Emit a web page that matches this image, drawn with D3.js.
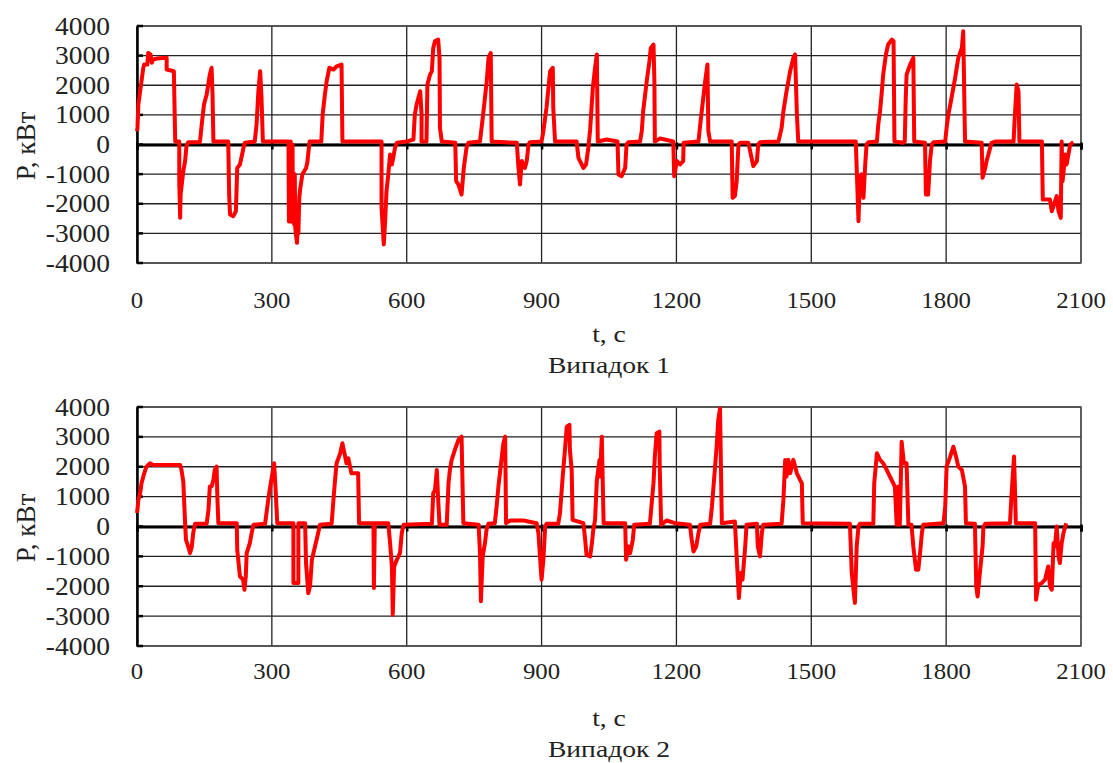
<!DOCTYPE html>
<html><head><meta charset="utf-8">
<script src="https://cdn.jsdelivr.net/npm/d3@7"></script>
<style>body{margin:0;background:#fff;} svg{display:block;} text{font-family:"Liberation Serif","Times New Roman",serif;fill:#222;}</style>
</head><body>
<svg id="c" width="1113" height="763"></svg>
<script>
const xTicks = [0,300,600,900,1200,1500,1800,2100];
const yTicks = [4000,3000,2000,1000,0,-1000,-2000,-3000,-4000];
const xTitle = "t, с";
const yTitle = "P, кВт";
const panelTitles = ["Випадок 1","Випадок 2"];

const time1 = [0,1,3,7,14,16,23,25,30,33,36,44,66,66,82,85,94,94,96,97,103,107,110,114,140,144,149,155,162,166,168,170,203,205,207,214,220,223,229,237,240,262,266,270,274,277,280,337,
338,341,342,343,345,346,347,350,351,352,354,356,358,359,361,363,365,368,372,376,379,381,384,
410,413,418,422,428,437,444,455,457,
544,544,549,552,555,559,563,567,570,574,578,600,615,618,622,626,630,633,633,644,646,652,656,659,663,670,673,674,678,
708,710,715,722,727,733,737,763,770,774,778,782,787,789,
845,848,852,856,863,867,871,874,900,904,911,919,925,926,930,
978,982,993,999,1004,1008,1014,1019,1023,1025,1045,1069,
1071,1078,1086,1089,1093,1119,1123,1126,1134,1140,1143,1149,1151,1152,1164,1193,
1195,1201,1208,1215,1216,1249,1253,1258,1264,1269,1271,1275,
1323,1325,1330,1334,1338,1342,1360,1364,1371,1379,1382,1386,1427,1434,1438,1445,1453,1460,1464,1468,1471,
1599,1601,1605,1608,1612,1616,1620,1623,1627,1646,1649,1653,1657,1660,1666,1671,1679,1683,1685,1705,1708,1710,1712,1720,1727,1729,1753,1755,1760,1764,1768,1772,1798,1801,1805,1812,1820,1827,1835,1838,1842,1879,1881,1887,1890,1898,1901,1909,1950,1953,1957,1961,1963,2013,2015,2031,2035,2040,2046,2050,2055,2057,2059,2065,2068,2076,2083];
const power1 = [450,560,1350,1800,2590,2700,2700,3090,3040,2760,2870,2900,2925,2530,2475,100,100,-1240,-2475,-1690,-900,-560,-56,80,80,675,1350,1690,2360,2590,1690,100,100,-1690,-2360,-2420,-2250,-790,-675,-110,56,100,675,1800,2475,1575,100,100,
-2600,-2600,100,-2500,-2600,0,-2600,-2700,-1000,-2800,-3100,-3320,-2500,-3000,-1800,-1500,-1300,-1000,-900,-800,-600,-300,100,
100,1010,1690,2140,2590,2530,2640,2700,100,
100,-2140,-3375,-2590,-1575,-1010,-340,-675,-450,-110,56,100,170,1010,1350,1575,1800,1010,100,100,2025,2360,2475,3260,3490,3540,2925,560,100,
56,-1240,-1350,-1690,-790,-110,56,100,1010,1575,2140,2925,3090,100,
56,-675,-1350,-560,-790,-560,0,80,100,450,1240,2475,2590,1240,100,
100,-450,-790,-675,-110,500,1910,2590,3040,100,170,100,
-1010,-1070,-790,0,80,100,450,1125,2140,2810,3260,3375,2140,100,200,100,
-1070,-560,-675,-560,56,100,675,1350,2140,2700,450,100,
100,-1800,-1740,-1240,0,56,56,-225,-730,-560,0,80,100,560,1125,1800,2475,2925,3040,1010,100,
100,-790,-2590,-1125,-1010,-1800,-675,0,80,100,675,1125,1800,2360,3040,3375,3540,3490,100,56,100,1500,2360,2700,2925,100,56,-1690,-1690,-560,0,80,100,560,1010,1575,2250,2925,3260,3825,100,56,-1125,-790,-560,-110,56,100,100,1010,2025,1800,100,100,-1860,-1860,-2250,-2025,-1740,-2250,-2475,100,-1240,-340,-675,0,80];

const time2 = [0,1,3,7,10,16,21,29,36,96,99,103,107,109,114,118,122,125,129,155,159,162,166,170,173,177,179,181,222,223,229,236,239,242,244,251,255,259,285,288,294,300,305,308,312,348,348,359,359,374,376,381,385,389,396,403,407,433,437,440,444,452,457,463,466,470,474,477,492,494,526,527,529,559,563,567,569,572,578,585,589,593,656,659,663,667,670,673,689,693,696,700,707,715,722,726,760,763,765,769,774,778,782,796,800,804,809,815,819,821,830,860,889,893,897,900,904,908,911,937,941,947,952,956,962,963,967,969,993,997,1000,1008,1012,1015,1019,1023,1029,1030,1034,1038,1086,1088,1093,1097,1103,1106,1141,1145,1149,1152,1156,1162,1163,1166,1178,1197,1230,1234,1238,1244,1249,1253,1275,1279,1286,1290,1293,1297,1301,1330,1334,1339,1343,1347,1353,1356,1379,1381,1386,1390,1393,1434,1438,1442,1445,1449,1453,1460,1468,1475,1479,1481,1586,1590,1597,1601,1605,1608,1638,1640,1646,1653,1660,1668,1675,1686,1690,1694,1697,1701,1706,1712,1716,1723,1727,1733,1738,1742,1746,1749,1794,1798,1801,1809,1816,1822,1827,1835,1842,1844,1864,1867,1870,1875,1881,1883,1887,1942,1944,1948,1951,1953,1955,1998,2000,2005,2013,2020,2027,2031,2035,2039,2042,2046,2050,2053,2057,2061,2067];
const power2 = [450,557,890,1114,1450,1780,2005,2117,2060,2060,1890,1500,111,-445,-670,-890,-670,-220,90,90,557,1337,1337,1560,1890,2005,890,111,111,-780,-1670,-1780,-2117,-1670,-890,-557,-220,56,90,445,1114,1670,2117,1337,111,111,-1890,-1890,111,111,-1225,-2230,-2000,-1114,-670,-220,56,90,890,1450,2117,2450,2785,2340,2117,2284,2005,1780,1780,111,111,-2060,111,111,-557,-1337,-2950,-1337,-1114,-890,-220,56,90,1114,1225,1890,890,56,56,1450,1890,2230,2560,2900,3008,111,56,-890,-2500,-1000,-557,-56,90,111,670,1337,2005,2785,3008,111,200,200,111,-220,-1114,-1780,-1114,0,90,90,445,1670,2560,3340,3400,2560,1890,220,111,-445,-950,-1000,-557,-110,220,1560,2230,1670,3008,111,111,-1114,-670,-890,-445,56,90,780,1450,2340,3120,3175,1890,56,200,111,56,-445,-835,-670,-220,56,90,670,2005,2785,3565,3950,111,167,-1000,-2395,-1560,-1780,-670,56,90,-670,-1000,-220,56,90,890,2230,1670,2230,1780,2230,1780,1560,1450,111,90,-1560,-2560,-670,0,90,90,1450,2450,2230,2117,1890,1670,1337,56,1337,56,2840,2117,2117,56,56,-670,-1450,-1450,-890,-220,56,111,670,2005,2340,2670,2340,2005,1890,1337,111,90,-2005,-2340,-1560,-670,0,90,111,670,1670,2340,1337,111,111,-2450,-1950,-1890,-1780,-1337,-2005,-2117,-557,-670,0,-1000,-1225,-557,-220,111];

const svg = d3.select("#c");
const left = 137, right = 1081;
const panels = [
  {top:26, bottom:263, times:time1, powers:power1, tickY:308, xTitleY:342, titleY:373, yTitleY:146},
  {top:407, bottom:646, times:time2, powers:power2, tickY:679, xTitleY:726, titleY:757, yTitleY:528}
];
const x = d3.scaleLinear().domain([0,2100]).range([left,right]);

function stretchedText(g, tx, ty, str, size, sx, anchor){
  return g.append("text")
    .attr("transform",`translate(${tx},${ty}) scale(${sx},1)`)
    .attr("text-anchor",anchor).attr("font-size",size).text(str);
}

panels.forEach((p,i)=>{
  const y = d3.scaleLinear().domain([-4000,4000]).range([p.bottom,p.top]);
  const g = svg.append("g");
  g.selectAll(".hg").data(yTicks).join("line")
    .attr("x1",left).attr("x2",right).attr("y1",d=>y(d)).attr("y2",d=>y(d))
    .attr("stroke","#222").attr("stroke-width",1.3);
  g.selectAll(".vg").data(xTicks).join("line")
    .attr("x1",d=>x(d)).attr("x2",d=>x(d)).attr("y1",p.top).attr("y2",p.bottom)
    .attr("stroke","#222").attr("stroke-width",1.3);
  g.append("rect").attr("x",left).attr("y",p.top).attr("width",right-left).attr("height",p.bottom-p.top)
    .attr("fill","none").attr("stroke","#555").attr("stroke-width",1.3);
  // y axis
  const ya = d3.axisLeft(y).tickValues(yTicks).tickSize(0).tickFormat("");
  const yg = g.append("g").attr("transform",`translate(${left},0)`).call(ya);
  yg.select(".domain").attr("stroke","#000").attr("stroke-width",2.5);
  g.selectAll(".yt").data(yTicks).join("line")
    .attr("x1",left).attr("x2",left+6).attr("y1",d=>y(d)).attr("y2",d=>y(d))
    .attr("stroke","#000").attr("stroke-width",2.5);
  yTicks.forEach(v=>{
    stretchedText(g, 110, y(v)+8.5, String(v), 25, 1.1, "end");
  });
  // zero axis
  const xa = d3.axisBottom(x).tickValues(xTicks).tickSize(5).tickFormat("");
  const xg = g.append("g").attr("transform",`translate(0,${y(0)})`).call(xa);
  xg.select(".domain").attr("stroke","#000").attr("stroke-width",3);
  xg.selectAll(".tick line").attr("stroke","#000").attr("stroke-width",2.5).attr("y1",-2);
  xTicks.forEach(v=>{
    stretchedText(g, x(v), p.tickY, String(v), 23, 1.08, "middle");
  });
  stretchedText(g, (left+right)/2, p.xTitleY, xTitle, 24, 1.15, "middle");
  stretchedText(g, (left+right)/2, p.titleY, panelTitles[i], 24, 1.15, "middle");
  g.append("text").attr("transform",`translate(35,${p.yTitleY}) rotate(-90)`).attr("text-anchor","middle").attr("font-size",27).text(yTitle);
  const pts = p.times.map((t,k)=>[t,p.powers[k]]);
  const line = d3.line().x(d=>x(d[0])).y(d=>y(d[1]));
  g.append("path").datum(pts).attr("d",line).attr("fill","none").attr("stroke","#ff0000").attr("stroke-width",4).attr("stroke-linejoin","round");
});
</script>
</body></html>
